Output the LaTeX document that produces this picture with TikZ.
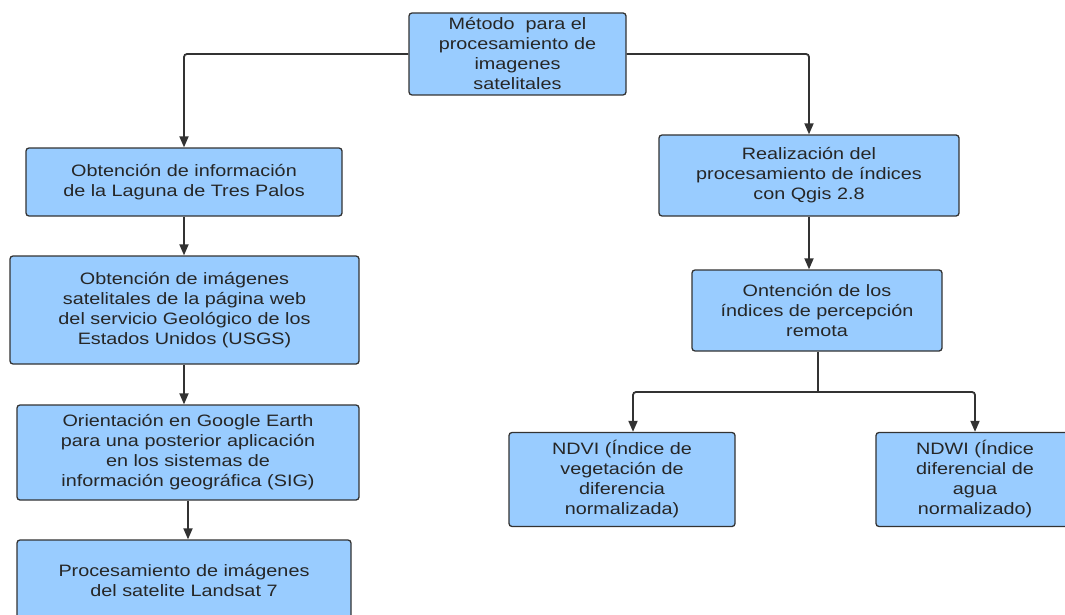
\documentclass[tikz,border=0pt]{standalone}
\usepackage{fontspec}
\setmainfont{Liberation Sans}[FakeStretch=1.2]
\usetikzlibrary{arrows.meta}
\definecolor{boxblue}{RGB}{153,204,255}
\definecolor{boxline}{RGB}{51,51,51}
\definecolor{arrowgray}{RGB}{50,50,50}
\begin{document}
\begin{tikzpicture}[x = 1pt, y = -1pt,
	box/.style = {draw = boxline, line width = 1.3pt, fill = boxblue, rounded corners = 3pt,
		align = center, text = black!85, font = \fontsize{16.5}{20}\selectfont, inner sep = 0pt},
	arrow/.style = {draw = arrowgray, line width = 1.8pt, rounded corners = 3pt,
		-{Triangle[width = 9pt, length = 11pt]}}]
	\useasboundingbox (0,0) rectangle (1065,615);
	% left column
	\node[box, minimum width = 217pt, minimum height = 82pt] (metodo) at (517.5,54) {M\'etodo\ \ para el\\procesamiento de\\imagenes\\satelitales};
	\node[box, minimum width = 316pt, minimum height = 68pt] (informacion) at (184,182) {Obtenci\'on de informaci\'on\\de la Laguna de Tres Palos};
	\node[box, minimum width = 349pt, minimum height = 108pt] (imagenes) at (184.5,310) {Obtenci\'on de im\'agenes\\satelitales de la p\'agina web\\del servicio Geol\'ogico de los\\Estados Unidos (USGS)};
	\node[box, minimum width = 342pt, minimum height = 95pt] (orientacion) at (188,452.5) {Orientaci\'on en Google Earth\\para una posterior aplicaci\'on\\en los sistemas de\\informaci\'on geogr\'afica (SIG)};
	\node[box, minimum width = 334pt, minimum height = 80pt] (landsat) at (184,580) {Procesamiento de im\'agenes\\del satelite Landsat 7};
	% right column
	\node[box, minimum width = 300pt, minimum height = 81pt] (qgis) at (809,175.5) {Realizaci\'on del\\procesamiento de \'indices\\con Qgis 2.8};
	\node[box, minimum width = 250pt, minimum height = 81pt] (indices) at (817,310.5) {Ontenci\'on de los\\\'indices de percepci\'on\\remota};
	\node[box, minimum width = 226pt, minimum height = 94pt] (ndvi) at (622,479.5) {NDVI (\'Indice de\\vegetaci\'on de\\diferencia\\normalizada)};
	\node[box, minimum width = 198pt, minimum height = 94pt] (ndwi) at (975,479.5) {NDWI (\'Indice\\diferencial de\\agua\\normalizado)};
	\coordinate (split) at (818,392);
	% connectors
	\draw[arrow] (metodo.west) -| (informacion.north);
	\draw[arrow] (metodo.east) -| (qgis.north);
	\draw[arrow] (informacion.south) -- (informacion.south |- imagenes.north);
	\draw[arrow] (imagenes.south -| informacion.south) -- (informacion.south |- orientacion.north);
	\draw[arrow] (orientacion.south) -- (orientacion.south |- landsat.north);
	\draw[arrow] (qgis.south) -- (qgis.south |- indices.north);
	\draw[arrow, -] (indices.south -| split) -- (split);
	\draw[arrow] (split) -| ([xshift = 11pt]ndvi.north);
	\draw[arrow] (split) -| (ndwi.north);
\end{tikzpicture}
\end{document}
